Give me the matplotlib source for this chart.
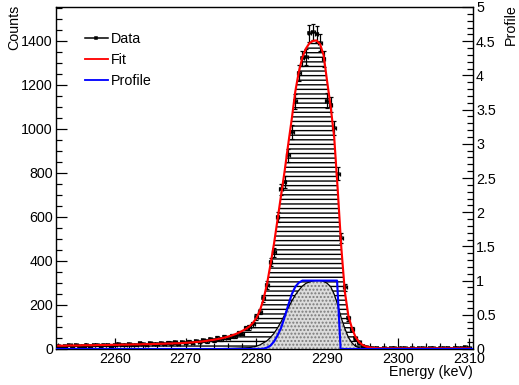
import numpy as np
import matplotlib
matplotlib.use("Agg")
import matplotlib.pyplot as plt
from matplotlib.lines import Line2D
from matplotlib.ticker import MultipleLocator, FormatStrFormatter

DPI = 110
plt.rcParams['font.family'] = ['Liberation Sans', 'DejaVu Sans']
plt.rcParams['hatch.linewidth'] = 0.9

# ---- data ----
energy = np.arange(2252.0, 2310.01, 0.5)  # bin centres (keV)
data_counts = [14, 10, 13, 16, 11, 17, 13, 15, 18, 12, 16, 19, 13, 17, 20, 15,
               17, 22, 16, 19, 24, 19, 17, 25, 21, 20, 26, 21, 23, 28, 22, 29,
               25, 30, 24, 31, 27, 34, 28, 36, 31, 39, 35, 45, 39, 50, 44, 55,
               52, 60, 58, 72, 70, 95, 98, 112, 145, 170, 230, 290, 395, 440, 600, 725,
               760, 880, 985, 1125, 1255, 1320, 1325, 1435, 1440, 1432, 1392, 1318, 1128, 1110, 1006, 797,
               503, 280, 140, 90, 48, 30, 15, 10, 6, 4, 3, 2, 4, 1, 3, 5,
               2, 3, 4, 2, 3, 1, 4, 3, 2, 5, 3, 2, 4, 3, 6, 2,
               3, 5, 4, 7, 3]
fit_counts = [15, 15, 15, 16, 16, 16, 16, 17, 17, 17, 17, 18, 18, 18, 18, 19,
              19, 19, 20, 20, 20, 21, 21, 21, 22, 22, 22, 23, 23, 24, 24, 25,
              25, 26, 26, 27, 28, 29, 30, 32, 33, 35, 37, 40, 42, 45, 48, 52,
              56, 61, 67, 74, 82, 91, 102, 118, 140, 175, 225, 295, 385, 480, 590, 700,
              810, 930, 1045, 1170, 1260, 1325, 1365, 1390, 1400, 1402, 1385, 1335, 1215, 1100, 960, 720,
              460, 260, 150, 95, 55, 32, 18, 11, 7, 5, 4, 3, 3, 3, 3, 3,
              3, 3, 3, 3, 3, 3, 3, 3, 3, 3, 3, 3, 3, 3, 3, 3,
              3, 3, 3, 3, 3]

gray_energy = np.arange(2274.0, 2296.01, 0.5)
gray_values = [0.0, 0.003, 0.005, 0.007, 0.008, 0.01, 0.012, 0.014, 0.016, 0.018, 0.02, 0.03,
               0.04, 0.06, 0.09, 0.12, 0.17, 0.23, 0.31, 0.40, 0.50, 0.60, 0.70, 0.79,
               0.86, 0.92, 0.96, 0.98, 0.995, 1.0, 1.0, 0.99, 0.96, 0.91, 0.80, 0.64,
               0.45, 0.30, 0.17, 0.09, 0.04, 0.02, 0.01, 0.005, 0.0]

profile_energy = [2251.7, 2280.5, 2281, 2281.5, 2282, 2282.5, 2283, 2283.5, 2284, 2284.5,
                  2285, 2285.5, 2286, 2286.5, 2291.4, 2291.9, 2310.6]
profile_values = [0, 0, 0.005, 0.02, 0.05, 0.11, 0.20, 0.31, 0.47, 0.64,
                  0.80, 0.91, 0.97, 1.0, 1.0, 0, 0]

x_ticks = [2260, 2270, 2280, 2290, 2300, 2310]
left_ticks = [0, 200, 400, 600, 800, 1000, 1200, 1400]
right_ticks = [0, 0.5, 1, 1.5, 2, 2.5, 3, 3.5, 4, 4.5, 5]

# ---- figure ----
W, H = 519, 385
fig = plt.figure(figsize=(W / DPI, H / DPI), dpi=DPI)
L, R, T, B = 56, 473, 7, 349
ax = fig.add_axes([L / W, 1 - B / H, (R - L) / W, (B - T) / H])
ax2 = ax.twinx()

fs = 9.3
ax.set_xlim(2251.7, 2310.6)
ax.set_ylim(0, 1554)
ax2.set_ylim(0, 5)

# hatched fit area
ax.fill_between(energy, 0, fit_counts, facecolor='none', edgecolor='black',
                hatch='----', linewidth=0, zorder=1)
# data
counts = np.array(data_counts, dtype=float)
ax.errorbar(energy, counts, yerr=np.sqrt(counts), xerr=0.25, fmt='s', color='black',
            markersize=1.8, elinewidth=0.8, capsize=1.2, capthick=0.8, zorder=3)
ax.plot(energy, fit_counts, color='#ff0000', linewidth=1.4, zorder=4)

# gray distribution and blue profile on right axis
ax2.fill_between(gray_energy, 0, gray_values, facecolor='#dcdcdc', edgecolor='#7a7a7a',
                 hatch='.....', linewidth=0, zorder=1)
ax2.plot(gray_energy, gray_values, color='black', linewidth=0.8, zorder=2)
ax2.plot(profile_energy, profile_values, color='#0000ff', linewidth=1.4, zorder=3)
ax2.set_xlim(2251.7, 2310.6)

# ticks
for a in (ax, ax2):
    for s in a.spines.values():
        s.set_linewidth(0.8)
ax.set_xticks(x_ticks)
ax.xaxis.set_minor_locator(MultipleLocator(2))
ax.set_yticks(left_ticks)
ax.yaxis.set_minor_locator(MultipleLocator(50))
ax.tick_params(axis='both', which='major', direction='in', length=7.5, width=0.8,
               labelsize=fs, top=False, right=False, pad=2)
ax.tick_params(axis='both', which='minor', direction='in', length=3.8, width=0.8,
               top=False, right=False)
ax2.set_yticks(right_ticks)
ax2.yaxis.set_minor_locator(MultipleLocator(0.1))
ax2.yaxis.set_major_formatter(FormatStrFormatter('%g'))
ax2.tick_params(axis='y', which='major', direction='in', length=7.5, width=0.8,
                labelsize=fs, pad=2)
ax2.tick_params(axis='y', which='minor', direction='in', length=3.8, width=0.8)

# titles
fig.text(14 / W, 1 - 5 / H, 'Counts', rotation=90, ha='center', va='top', fontsize=fs)
fig.text(511 / W, 1 - 4 / H, 'Profile', rotation=90, ha='center', va='top', fontsize=fs)
fig.text(R / W, 1 - 372 / H, 'Energy (keV)', ha='right', va='center', fontsize=fs)

# legend
handles = [Line2D([], [], color='black', marker='s', markersize=1.8, linewidth=1.0),
           Line2D([], [], color='#ff0000', linewidth=1.2),
           Line2D([], [], color='#0000ff', linewidth=1.2)]
ax2.legend(handles, ['Data', 'Fit', 'Profile'], loc='upper left',
           bbox_to_anchor=(85 / W, 1 - 32 / H), bbox_transform=fig.transFigure,
           frameon=False, fontsize=fs, handlelength=1.6, handletextpad=0.2,
           labelspacing=0.5, borderpad=0, borderaxespad=0)

fig.savefig('out.png', dpi=DPI)
